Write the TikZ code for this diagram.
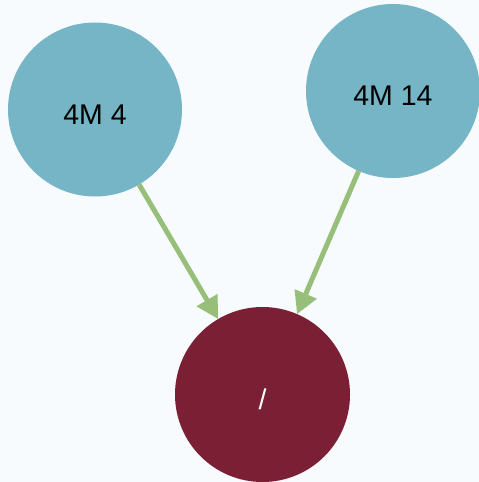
\documentclass[tikz,border=0pt]{standalone}
\usepackage{fontspec}
\setmainfont{Liberation Sans}
\usetikzlibrary{arrows.meta}
\definecolor{bgc}{HTML}{F7FBFE}
\definecolor{tealc}{HTML}{76B5C6}
\definecolor{redc}{HTML}{7B1F35}
\definecolor{greenc}{HTML}{97BF7A}
\begin{document}
\begin{tikzpicture}[x=1bp,y=-1bp,
  src/.style={circle,fill=tealc,draw=none,inner sep=0pt,outer sep=0pt,minimum size=174bp,
    font=\fontsize{28.5bp}{34bp}\selectfont,text=black,text height=30bp,text depth=0pt},
  dst/.style={circle,fill=redc,draw=none,inner sep=0pt,outer sep=0pt,minimum size=175bp,
    font=\fontsize{28.5bp}{34bp}\selectfont,text=white,text height=29bp,text depth=0pt},
  link/.style={draw=greenc,line width=5bp,-{Triangle[length=22bp,width=23bp]}}]
\fill[bgc] (0,0) rectangle (479,482);
\useasboundingbox (0,0) rectangle (479,482);
\node[src] (a) at (95,109.5) {4M 4};
\node[src] (b) at (393,91) {4M 14};
\node[dst] (c) at (262.5,394.5) {/};
\draw[link] (a) -- (c);
\draw[link] (b) -- (c);
\end{tikzpicture}
\end{document}
